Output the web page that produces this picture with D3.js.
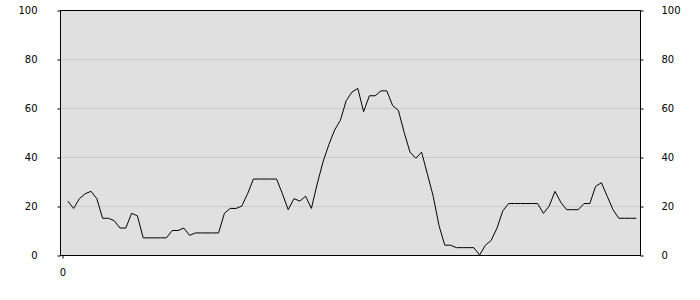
<!DOCTYPE html>
<html>
<head>
<meta charset="utf-8">
<script src="https://cdn.jsdelivr.net/npm/d3@7"></script>
<style>
  body { margin: 0; background: #fff; }
  svg text { font-family: "DejaVu Sans", Verdana, sans-serif; font-size: 10px; fill: #000; }
</style>
</head>
<body>
<div id="chart"></div>
<script>
// series values (one sample per step, steps 1..99)
const values = [
  22, 19, 23, 25, 26, 23, 15, 15, 14, 11,
  11, 17, 16, 7, 7, 7, 7, 7, 10, 10,
  11, 8, 9, 9, 9, 9, 9, 17, 19, 19,
  20, 25, 31, 31, 31, 31, 31, 25, 18.5, 23,
  22, 24, 19, 29, 38, 45, 51, 55, 63, 66.5,
  68, 58.5, 65, 65, 67, 67, 61, 59, 50, 42,
  39.5, 42, 33, 24, 12, 4, 4, 3, 3, 3,
  3, 0, 4, 6, 11, 18, 21, 21, 21, 21,
  21, 21, 17, 20, 26, 21.5, 18.5, 18.5, 18.5, 21,
  21, 28, 29.5, 24, 18.5, 15, 15, 15, 15
];
const steps = values.map((d, i) => i + 1);
const yTicks = [0, 20, 40, 60, 80, 100];
const xTicks = [0];

const width = 700, height = 300;
const frame = {left: 60, right: 640, top: 10, bottom: 255};

const svg = d3.select('#chart')
  .append('svg')
  .attr('width', width)
  .attr('height', height);

const x = d3.scaleLinear()
  .domain([0, 100])
  .range([frame.left + 2, frame.right + 2]);

const y = d3.scaleLinear()
  .domain([0, 100])
  .range([frame.bottom, frame.top]);

// plot background
svg.append('rect')
  .attr('x', frame.left)
  .attr('y', frame.top)
  .attr('width', frame.right - frame.left)
  .attr('height', frame.bottom - frame.top)
  .attr('fill', '#e0e0e0');

// gridlines
svg.append('g')
  .selectAll('line')
  .data(yTicks.filter(d => d > 0 && d < 100))
  .enter()
  .append('line')
  .attr('x1', frame.left)
  .attr('x2', frame.right)
  .attr('y1', d => Math.round(y(d)) + 0.5)
  .attr('y2', d => Math.round(y(d)) + 0.5)
  .attr('stroke', '#cccccc')
  .attr('stroke-width', 1);

// the series
const line = d3.line()
  .x((d, i) => x(steps[i]))
  .y(d => y(d));

svg.append('path')
  .datum(values)
  .attr('d', line)
  .attr('fill', 'none')
  .attr('stroke', '#000')
  .attr('stroke-width', 1);

// frame
svg.append('rect')
  .attr('x', frame.left + 0.5)
  .attr('y', frame.top + 0.5)
  .attr('width', frame.right - frame.left)
  .attr('height', frame.bottom - frame.top)
  .attr('fill', 'none')
  .attr('stroke', '#000')
  .attr('stroke-width', 1);

// axes
const leftAxis = d3.axisLeft(y).tickValues(yTicks).tickSize(3).tickPadding(20);
const rightAxis = d3.axisRight(y).tickValues(yTicks).tickSize(3).tickPadding(18);
const bottomAxis = d3.axisBottom(x).tickValues(xTicks).tickSize(3).tickPadding(10)
  .tickFormat(d3.format('d'));

function styleAxis(g){
  g.select('.domain').remove();
  g.selectAll('line').attr('stroke', '#000');
  g.selectAll('text').attr('font-size', '10px').attr('font-family', '"DejaVu Sans", Verdana, sans-serif');
}

svg.append('g')
  .attr('transform', `translate(${frame.left + 0.5}, 0.5)`)
  .call(leftAxis)
  .call(styleAxis);

svg.append('g')
  .attr('transform', `translate(${frame.right + 0.5}, 0.5)`)
  .call(rightAxis)
  .call(styleAxis);

svg.append('g')
  .attr('transform', `translate(0.5, ${frame.bottom + 0.5})`)
  .call(bottomAxis)
  .call(styleAxis);
</script>
</body>
</html>
